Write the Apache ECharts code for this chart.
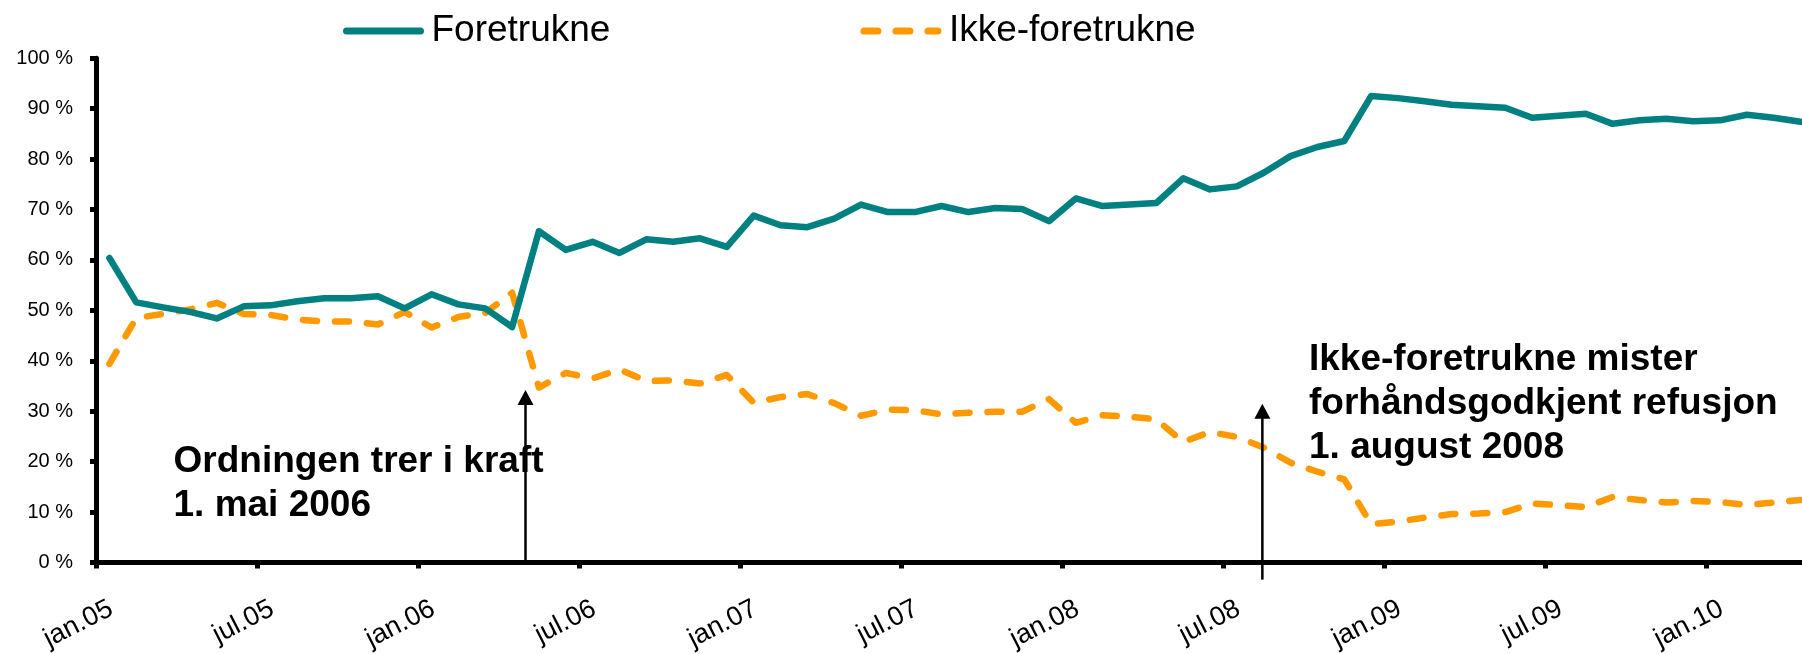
<!DOCTYPE html>
<html>
<head>
<meta charset="utf-8">
<script src="https://cdn.jsdelivr.net/npm/echarts@6/dist/echarts.min.js"></script>
<style>
  html, body { margin: 0; padding: 0; background: #fff; }
  #chart { width: 1802px; height: 654px; }
</style>
</head>
<body>
<div id="chart"></div>
<script>
// Month categories (one per data point), jan.05 .. apr.10
const months = [
  'jan.05','feb.05','mar.05','apr.05','mai.05','jun.05','jul.05','aug.05','sep.05','okt.05','nov.05','des.05',
  'jan.06','feb.06','mar.06','apr.06','mai.06','jun.06','jul.06','aug.06','sep.06','okt.06','nov.06','des.06',
  'jan.07','feb.07','mar.07','apr.07','mai.07','jun.07','jul.07','aug.07','sep.07','okt.07','nov.07','des.07',
  'jan.08','feb.08','mar.08','apr.08','mai.08','jun.08','jul.08','aug.08','sep.08','okt.08','nov.08','des.08',
  'jan.09','feb.09','mar.09','apr.09','mai.09','jun.09','jul.09','aug.09','sep.09','okt.09','nov.09','des.09',
  'jan.10','feb.10','mar.10','apr.10'
];

// Share (%) of preferred products
const foretrukne = [
  60.4, 51.6, 50.6, 49.7, 48.4, 50.8, 51.0, 51.8, 52.4, 52.4, 52.8, 50.4,
  53.2, 51.2, 50.4, 46.7, 65.7, 62.0, 63.6, 61.4, 64.1, 63.6, 64.3, 62.6,
  68.8, 66.9, 66.5, 68.2, 71.0, 69.5, 69.5, 70.7, 69.5, 70.3, 70.1, 67.7,
  72.2, 70.7, 71.0, 71.3, 76.2, 74.0, 74.6, 77.3, 80.6, 82.4, 83.6, 92.5,
  92.1, 91.5, 90.8, 90.5, 90.2, 88.2, 88.6, 89.0, 87.0, 87.7, 88.0, 87.5,
  87.7, 88.8, 88.2, 87.4
];

// Share (%) of non-preferred products
const ikkeForetrukne = [
  39.4, 48.5, 49.3, 50.2, 51.5, 49.3, 49.1, 48.2, 47.8, 47.8, 47.2, 49.7,
  46.6, 48.7, 49.5, 53.5, 34.7, 37.6, 36.5, 38.3, 36.0, 36.1, 35.5, 37.2,
  31.7, 32.8, 33.4, 31.6, 29.1, 30.3, 30.2, 29.4, 29.7, 29.9, 29.9, 32.4,
  27.7, 29.2, 28.9, 28.4, 23.9, 25.9, 24.9, 22.8, 19.8, 18.0, 16.5, 7.6,
  8.1, 8.9, 9.6, 9.7, 10.0, 11.7, 11.4, 11.0, 13.0, 12.4, 11.9, 12.2,
  12.0, 11.4, 11.9, 12.4
];

const seriesNames = ['Foretrukne', 'Ikke-foretrukne'];
const annotation1 = 'Ordningen trer i kraft\n1. mai 2006';
const annotation2 = 'Ikke-foretrukne mister\nforhåndsgodkjent refusjon\n1. august 2008';

// event arrows in data units: month position, start value, tip value
const arrowMonth = [16, 43.45];
const arrowFrom = [-0.5, -3.4];
const arrowTo = [34.2, 31.5];

// each monthly point sits in the middle of its month band
const toPoints = arr => arr.map((v, i) => [i + 0.5, v]);

const FONT = '"Liberation Sans", Arial, "DejaVu Sans", sans-serif';
const chart = echarts.init(document.getElementById('chart'), null, { renderer: 'canvas' });

chart.setOption({
  animation: false,
  backgroundColor: '#ffffff',
  textStyle: { fontFamily: FONT, color: '#000' },
  grid: { left: 96, width: 1718, top: 58.3, bottom: 91.5, containLabel: false, outerBoundsMode: 'none' },
  legend: {
    data: seriesNames,
    left: 343,
    top: 11,
    padding: 0,
    itemWidth: 74,
    itemHeight: 14,
    itemGap: 250,
    itemStyle: { opacity: 0 },
    lineStyle: { width: 7, cap: 'round' },
    textStyle: { fontFamily: FONT, fontSize: 37, color: '#000', lineHeight: 40, padding: [0, 0, 0, 6] }
  },
  xAxis: {
    type: 'value',
    min: 0,
    max: months.length,
    interval: 6,
    splitLine: { show: false },
    axisLine: { show: true, onZero: false, lineStyle: { color: '#000', width: 5 } },
    axisTick: { show: true, length: 6, lineStyle: { color: '#000', width: 5 } },
    axisLabel: {
      rotate: 27,
      fontFamily: FONT,
      fontSize: 27,
      color: '#000',
      margin: 52.5,
      padding: [0, -17, 0, 0],
      hideOverlap: false,
      formatter: v => (v % 6 === 0 && months[v]) ? months[v] : ''
    }
  },
  yAxis: {
    type: 'value',
    min: 0,
    max: 100,
    interval: 10,
    splitLine: { show: false },
    axisLine: { show: true, onZero: false, lineStyle: { color: '#000', width: 5 } },
    axisTick: { show: true, length: 6, lineStyle: { color: '#000', width: 5 } },
    axisLabel: { fontFamily: FONT, fontSize: 20, color: '#000', margin: 23, formatter: '{value} %' }
  },
  graphic: [
    {
      id: 'note1', type: 'text', left: 173.5, top: 440, z: 100,
      style: { text: annotation1, font: 'bold 37px ' + FONT, lineHeight: 44, fill: '#000' }
    },
    {
      id: 'note2', type: 'text', left: 1309, top: 338, z: 100,
      style: { text: annotation2, font: 'bold 37px ' + FONT, lineHeight: 44, fill: '#000' }
    }
  ],
  series: [
    {
      name: seriesNames[0],
      type: 'line',
      data: toPoints(foretrukne),
      symbol: 'none',
      lineStyle: { color: '#008080', width: 6.5, join: 'round', cap: 'round' },
      itemStyle: { color: '#008080' },
      z: 3
    },
    {
      name: seriesNames[1],
      type: 'line',
      data: toPoints(ikkeForetrukne),
      symbol: 'none',
      lineStyle: { color: '#FF9900', width: 6.5, type: [14, 18], cap: 'round', join: 'round' },
      itemStyle: { color: '#FF9900' },
      z: 2
    }
  ]
});

// arrows placed through the chart's own scales
const arrowEls = [];
arrowMonth.forEach((m, k) => {
  const a = chart.convertToPixel({ gridIndex: 0 }, [m, arrowFrom[k]]);
  const b = chart.convertToPixel({ gridIndex: 0 }, [m, arrowTo[k]]);
  const x = b[0];
  arrowEls.push({
    id: 'arrowLine' + k, type: 'line', z: 50, silent: true,
    shape: { x1: x, y1: a[1], x2: x, y2: b[1] + 8 },
    style: { stroke: '#000', lineWidth: 2.5 }
  });
  arrowEls.push({
    id: 'arrowHead' + k, type: 'polygon', z: 50, silent: true,
    shape: { points: [[x, b[1]], [x - 8, b[1] + 15], [x + 8, b[1] + 15]] },
    style: { fill: '#000' }
  });
});
chart.setOption({ graphic: arrowEls });
</script>
</body>
</html>
